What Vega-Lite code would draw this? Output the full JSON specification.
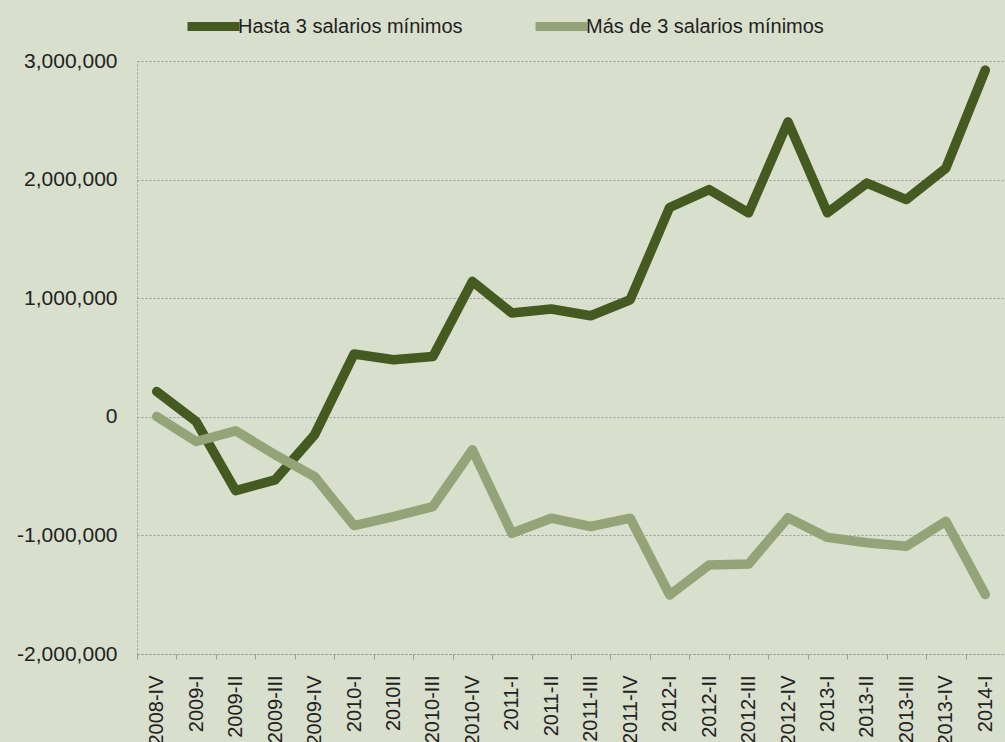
{
  "$schema": "https://vega.github.io/schema/vega-lite/v6.json",
  "autosize": {"type": "none"},
  "padding": {"left": 137, "top": 61, "right": 0, "bottom": 88},
  "width": 868,
  "height": 593,
  "background": "#d8dfcc",
  "config": {
    "view": {"stroke": null},
    "font": "Liberation Sans",
    "axis": {"labelFont": "Liberation Sans", "labelColor": "#222222", "labelFontSize": 20}
  },
  "data": {
    "values": [
      {"periodo": "2008-IV", "serie": "Hasta 3 salarios mínimos", "valor": 213000},
      {"periodo": "2009-I", "serie": "Hasta 3 salarios mínimos", "valor": -40000},
      {"periodo": "2009-II", "serie": "Hasta 3 salarios mínimos", "valor": -622000},
      {"periodo": "2009-III", "serie": "Hasta 3 salarios mínimos", "valor": -532000},
      {"periodo": "2009-IV", "serie": "Hasta 3 salarios mínimos", "valor": -152000},
      {"periodo": "2010-I", "serie": "Hasta 3 salarios mínimos", "valor": 529000},
      {"periodo": "2010II", "serie": "Hasta 3 salarios mínimos", "valor": 481000},
      {"periodo": "2010-III", "serie": "Hasta 3 salarios mínimos", "valor": 509000},
      {"periodo": "2010-IV", "serie": "Hasta 3 salarios mínimos", "valor": 1142000},
      {"periodo": "2011-I", "serie": "Hasta 3 salarios mínimos", "valor": 875000},
      {"periodo": "2011-II", "serie": "Hasta 3 salarios mínimos", "valor": 909000},
      {"periodo": "2011-III", "serie": "Hasta 3 salarios mínimos", "valor": 852000},
      {"periodo": "2011-IV", "serie": "Hasta 3 salarios mínimos", "valor": 987000},
      {"periodo": "2012-I", "serie": "Hasta 3 salarios mínimos", "valor": 1765000},
      {"periodo": "2012-II", "serie": "Hasta 3 salarios mínimos", "valor": 1916000},
      {"periodo": "2012-III", "serie": "Hasta 3 salarios mínimos", "valor": 1720000},
      {"periodo": "2012-IV", "serie": "Hasta 3 salarios mínimos", "valor": 2487000},
      {"periodo": "2013-I", "serie": "Hasta 3 salarios mínimos", "valor": 1720000},
      {"periodo": "2013-II", "serie": "Hasta 3 salarios mínimos", "valor": 1970000},
      {"periodo": "2013-III", "serie": "Hasta 3 salarios mínimos", "valor": 1832000},
      {"periodo": "2013-IV", "serie": "Hasta 3 salarios mínimos", "valor": 2096000},
      {"periodo": "2014-I", "serie": "Hasta 3 salarios mínimos", "valor": 2923000},
      {"periodo": "2008-IV", "serie": "Más de 3 salarios mínimos", "valor": 3000},
      {"periodo": "2009-I", "serie": "Más de 3 salarios mínimos", "valor": -208000},
      {"periodo": "2009-II", "serie": "Más de 3 salarios mínimos", "valor": -118000},
      {"periodo": "2009-III", "serie": "Más de 3 salarios mínimos", "valor": -320000},
      {"periodo": "2009-IV", "serie": "Más de 3 salarios mínimos", "valor": -504000},
      {"periodo": "2010-I", "serie": "Más de 3 salarios mínimos", "valor": -917000},
      {"periodo": "2010II", "serie": "Más de 3 salarios mínimos", "valor": -841000},
      {"periodo": "2010-III", "serie": "Más de 3 salarios mínimos", "valor": -757000},
      {"periodo": "2010-IV", "serie": "Más de 3 salarios mínimos", "valor": -278000},
      {"periodo": "2011-I", "serie": "Más de 3 salarios mínimos", "valor": -982000},
      {"periodo": "2011-II", "serie": "Más de 3 salarios mínimos", "valor": -855000},
      {"periodo": "2011-III", "serie": "Más de 3 salarios mínimos", "valor": -925000},
      {"periodo": "2011-IV", "serie": "Más de 3 salarios mínimos", "valor": -855000},
      {"periodo": "2012-I", "serie": "Más de 3 salarios mínimos", "valor": -1502000},
      {"periodo": "2012-II", "serie": "Más de 3 salarios mínimos", "valor": -1249000},
      {"periodo": "2012-III", "serie": "Más de 3 salarios mínimos", "valor": -1242000},
      {"periodo": "2012-IV", "serie": "Más de 3 salarios mínimos", "valor": -851000},
      {"periodo": "2013-I", "serie": "Más de 3 salarios mínimos", "valor": -1017000},
      {"periodo": "2013-II", "serie": "Más de 3 salarios mínimos", "valor": -1062000},
      {"periodo": "2013-III", "serie": "Más de 3 salarios mínimos", "valor": -1092000},
      {"periodo": "2013-IV", "serie": "Más de 3 salarios mínimos", "valor": -881000},
      {"periodo": "2014-I", "serie": "Más de 3 salarios mínimos", "valor": -1498000}
    ]
  },
  "mark": {"type": "line", "strokeWidth": 9.5, "strokeCap": "round", "strokeJoin": "round"},
  "encoding": {
    "x": {
      "field": "periodo",
      "type": "nominal",
      "sort": null,
      "scale": {"type": "band", "paddingInner": 0, "paddingOuter": 0},
      "axis": {
        "title": null,
        "labelAngle": 270,
        "labelAlign": "right",
        "labelBaseline": "middle",
        "labelPadding": 16,
        "tickBand": "extent",
        "ticks": true,
        "tickSize": 5,
        "tickColor": "#999999",
        "tickWidth": 1,
        "domain": true,
        "domainColor": "#999999",
        "domainDash": [2, 2],
        "domainWidth": 1,
        "grid": false
      }
    },
    "y": {
      "field": "valor",
      "type": "quantitative",
      "scale": {"domain": [-2000000, 3000000], "nice": false, "zero": false},
      "axis": {
        "title": null,
        "values": [-2000000, -1000000, 0, 1000000, 2000000, 3000000],
        "labelExpr": "replace(format(datum.value, ','), '\u2212', '-')",
        "labelFontSize": 21,
        "ticks": false,
        "labelPadding": 20,
        "domain": true,
        "domainColor": "#999999",
        "domainDash": [2, 2],
        "domainWidth": 1,
        "grid": true,
        "gridColor": "#999999",
        "gridDash": [2, 2],
        "gridWidth": 1
      }
    },
    "color": {
      "field": "serie",
      "type": "nominal",
      "scale": {
        "domain": ["Hasta 3 salarios mínimos", "Más de 3 salarios mínimos"],
        "range": ["#455a20", "#95a378"]
      },
      "legend": {
        "title": null,
        "orient": "none",
        "legendX": 46,
        "legendY": -65,
        "direction": "horizontal",
        "gridAlign": "none",
        "symbolType": "stroke",
        "symbolStrokeWidth": 9,
        "symbolSize": 2700,
        "labelFontSize": 20,
        "labelColor": "#222222",
        "labelFont": "Liberation Sans",
        "labelOffset": -6,
        "columnPadding": 54,
        "labelLimit": 400
      }
    }
  }
}
